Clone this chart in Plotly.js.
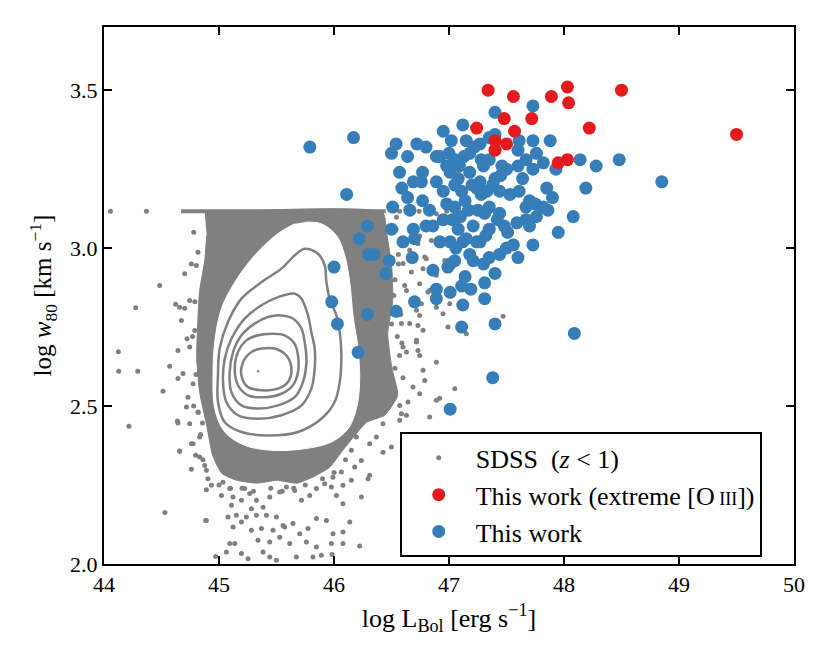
<!DOCTYPE html>
<html>
<head>
<meta charset="utf-8">
<script src="https://cdn.plot.ly/plotly-3.0.1.min.js"></script>
<style>html,body{margin:0;padding:0;background:#fff;}#chart{width:830px;height:664px;}</style>
</head>
<body>
<div id="chart"></div>
<script>
// ---------------- data ----------------
const xTickVals = [44, 45, 46, 47, 48, 49, 50];
const xTickText = ["44", "45", "46", "47", "48", "49", "50"];
const yTickVals = [2.0, 2.5, 3.0, 3.5];
const yTickText = ["2.0", "2.5", "3.0", "3.5"];

// "This work" sample
const blueX = [45.79,46.17,46.11,46.29,46.22,46.30,46.35,46.48,46.00,46.45,45.98,46.29,46.03,46.21,46.54,46.70,
  46.54,46.50,46.95,46.64,46.72,46.80,46.89,46.57,46.59,46.69,46.77,46.89,46.64,46.77,46.51,46.66,46.98,46.50,46.69,46.80,46.60,46.70,46.68,46.86,46.99,46.89,46.89,
  47.73,47.40,47.12,46.92,47.02,47.15,47.27,47.05,47.18,47.35,47.61,47.73,47.88,47.76,47.67,47.82,48.14,47.46,47.50,
  47.01,47.09,47.18,47.27,47.40,47.64,47.73,47.85,47.11,47.24,47.33,47.53,47.61,47.70,47.90,47.17,47.31,47.44,47.67,47.86,48.08,
  46.95,47.08,47.21,47.35,47.59,47.67,47.76,47.95,47.01,47.12,47.27,47.51,47.56,47.73,
  47.40,48.48,48.28,48.85,48.19,47.40,47.31,47.31,47.12,47.11,47.40,48.09,47.38,47.01,47.01,47.19,47.14,47.01,47.05,47.21,47.35,47.44,
  47.75,47.24,47.18,47.30,47.60,47.93,46.76,47.11,47.06,46.86,47.03,
  47.05,47.35,47.44,47.14,46.92,46.83,47.48,47.08,47.30,
  47.00,47.08,47.20,47.28,47.10,47.25,47.15,47.32,47.22,47.05,46.95,47.28,47.38,47.45,47.13,47.35,46.98,47.42,47.60,47.82,47.70,47.50,47.60];
const blueY = [3.32,3.35,3.17,3.07,3.03,2.98,2.98,2.96,2.94,2.92,2.83,2.79,2.76,2.67,2.80,2.83,
  3.33,3.30,3.37,3.29,3.33,3.32,3.29,3.24,3.19,3.21,3.24,3.21,3.16,3.15,3.13,3.12,3.14,3.06,3.06,3.07,3.02,3.03,2.97,2.93,2.94,2.87,2.84,
  3.45,3.43,3.39,3.29,3.34,3.34,3.33,3.28,3.30,3.28,3.34,3.34,3.34,3.30,3.28,3.27,3.28,3.26,3.25,
  3.24,3.26,3.24,3.21,3.22,3.22,3.25,3.19,3.18,3.19,3.18,3.17,3.18,3.15,3.16,3.12,3.11,3.11,3.13,3.12,3.10,
  3.09,3.06,3.07,3.06,3.08,3.09,3.10,3.05,3.02,3.02,3.02,3.05,3.01,3.01,
  3.36,3.28,3.26,3.21,3.19,2.92,2.89,2.84,2.82,2.75,2.76,2.73,2.59,2.49,2.86,2.87,2.91,2.95,2.96,2.96,2.97,2.98,
  3.14,3.02,2.98,3.26,3.31,3.25,3.21,2.88,3.00,3.07,3.09,
  3.20,3.13,3.18,3.15,3.02,3.12,3.07,3.10,2.95,
  3.30,3.22,3.20,3.28,3.10,3.12,3.03,3.04,3.32,3.13,3.18,3.17,3.20,3.23,3.29,3.35,3.26,3.09,3.26,3.13,3.07,3.00,2.97];

// "This work (extreme [O III])" sample
const redX = [47.34,47.56,47.89,48.03,48.04,48.50,47.48,47.72,47.24,47.57,48.22,49.50,47.40,47.50,47.40,47.95,48.03];
const redY = [3.50,3.48,3.48,3.51,3.46,3.50,3.41,3.41,3.38,3.37,3.38,3.36,3.34,3.33,3.31,3.27,3.28];

// SDSS: dense core outline (region filled solid by points)
const denseX = [44.876,46.423,46.458,46.502,46.511,46.467,46.502,46.554,46.441,46.284,46.197,46.076,45.963,45.815,45.676,45.502,45.328,45.154,45.024,44.945,44.893,44.832,44.806,44.815,44.832,44.876,44.893];
const denseY = [3.113,3.113,3.047,2.939,2.835,2.730,2.623,2.534,2.471,2.449,2.414,2.360,2.306,2.275,2.256,2.265,2.256,2.265,2.287,2.344,2.439,2.543,2.654,2.762,2.866,2.961,3.040];

// SDSS: pile-up of points at the w80 ceiling
const capX = [44.67, 46.45];
const capY = [3.117, 3.117];

// SDSS: individual sparse points
const sdssX = [44.056,44.369,44.484,44.276,44.623,44.125,44.128,44.293,44.513,44.217,44.638,44.658,44.530,44.884,44.702,44.673,44.722,44.643,44.571,44.643,44.730,44.817,44.745,44.774,44.832,44.890,44.658,44.745,44.702,44.803,44.817,44.789,44.745,44.687,44.774,44.717,44.832,
  44.643,44.856,44.760,44.658,44.797,44.760,44.876,44.904,44.934,44.890,45.035,45.093,45.021,45.122,45.223,45.267,45.325,45.195,45.108,45.282,45.383,45.441,45.528,45.586,45.658,45.717,45.789,45.847,45.919,45.977,46.021,46.078,46.238,
  46.137,46.078,45.991,45.934,45.847,45.774,45.702,45.643,45.571,45.499,45.412,45.325,45.238,45.151,45.078,44.890,45.122,45.195,45.282,45.369,45.470,45.557,45.339,45.441,45.528,45.615,45.760,45.847,45.977,46.078,46.223,45.093,45.137,45.064,45.195,45.252,45.383,45.441,45.499,45.673,45.817,45.890,45.983,44.971,
  46.310,46.426,46.499,46.310,46.296,46.238,46.151,46.195,46.369,46.571,46.630,46.470,46.571,46.426,46.180,46.151,46.064,45.991,46.078,
  46.586,46.658,46.730,46.803,46.600,46.673,46.745,46.832,46.890,46.630,46.717,46.586,46.658,46.730,46.774,46.717,46.730,46.745,46.630,46.774,46.890,46.789,46.687,47.050,46.991,47.151,46.643,46.586,46.832,46.890,46.543,46.658,46.890,46.963,46.774,46.890,47.006,46.948,46.847,46.789,46.615,46.817,46.760,47.470,46.745,46.717,46.600,46.919,46.745,46.745,47.267,
  46.57,46.66,46.74,46.98,47.18,
  46.54,46.56,46.53,46.58,46.55,46.57,46.60,46.52,46.56,46.59,46.50,46.53,
  44.78,44.76,44.79,44.77,44.80,44.78,44.84,44.86,44.82,
  45.00,45.10,45.20,45.30,45.45,45.55,45.65,45.75,45.90,46.00,46.10];
const sdssY = [3.117,3.117,2.882,2.811,2.822,2.672,2.610,2.610,2.547,2.436,2.453,2.358,2.163,2.138,2.810,2.771,2.713,2.676,2.626,2.587,2.528,2.481,2.444,2.381,2.339,2.297,2.813,2.834,2.919,2.945,2.987,2.739,2.687,2.603,2.571,2.497,2.402,
  2.446,2.446,2.381,2.357,2.344,2.300,2.312,2.270,2.249,2.235,2.259,2.239,2.217,2.212,2.239,2.223,2.202,2.202,2.186,2.175,2.180,2.212,2.228,2.244,2.233,2.202,2.217,2.239,2.254,2.244,2.217,2.191,2.212,
  2.133,2.101,2.096,2.138,2.144,2.112,2.096,2.128,2.117,2.149,2.154,2.154,2.149,2.154,2.149,2.138,2.117,2.133,2.107,2.112,2.107,2.122,2.075,2.070,2.085,2.065,2.070,2.054,2.065,2.065,2.057,2.065,2.065,2.038,2.033,2.017,2.038,2.022,2.012,2.022,2.022,2.028,2.030,2.024,
  2.381,2.354,2.370,2.281,2.270,2.328,2.360,2.402,2.402,2.455,2.471,2.497,2.502,2.444,2.307,2.265,2.291,2.275,2.249,
  3.030,2.993,3.014,2.966,2.951,2.924,2.887,2.866,2.813,2.866,2.803,2.761,2.761,2.755,2.740,2.708,2.676,2.660,2.671,2.613,2.639,2.581,2.560,2.555,2.750,2.729,2.513,2.476,2.465,2.518,3.098,3.109,3.109,2.961,2.935,2.914,2.824,2.792,3.024,2.972,2.882,2.861,2.824,2.784,2.787,2.703,2.687,2.525,2.539,3.038,3.119,
  3.117,3.117,3.117,3.117,3.117,
  3.06,2.98,2.90,2.79,2.72,2.66,2.59,2.85,2.95,2.70,2.76,2.62,
  3.05,2.95,2.83,2.72,2.60,2.50,2.41,2.33,2.48,
  2.25,2.24,2.24,2.23,2.24,2.23,2.24,2.25,2.27,2.29,2.33];

// SDSS density contours: outermost level (filled white) and inner levels
const whiteX = [45.745,45.890,46.021,46.093,46.137,46.165,46.209,46.223,46.195,46.122,45.977,45.745,45.456,45.223,45.050,44.963,44.948,44.963,45.021,45.137,45.310,45.513,45.658];
const whiteY = [3.082,3.077,3.040,2.977,2.892,2.787,2.682,2.576,2.492,2.428,2.386,2.365,2.360,2.376,2.418,2.492,2.597,2.703,2.808,2.892,2.977,3.046,3.077];
const c1X = [45.745,45.861,45.919,45.934,45.963,46.021,46.050,46.064,46.050,46.006,45.890,45.687,45.426,45.195,45.050,44.991,44.991,45.006,45.078,45.195,45.369,45.543,45.658,45.745];
const c1Y = [2.998,2.982,2.945,2.892,2.840,2.787,2.734,2.660,2.576,2.513,2.460,2.418,2.407,2.418,2.449,2.513,2.597,2.682,2.766,2.840,2.892,2.935,2.977,2.998];
const c2X = [45.658,45.717,45.774,45.803,45.832,45.832,45.803,45.717,45.543,45.339,45.165,45.064,45.035,45.050,45.108,45.223,45.369,45.513,45.658];
const c2Y = [2.856,2.840,2.787,2.734,2.682,2.618,2.555,2.502,2.471,2.460,2.471,2.513,2.576,2.650,2.713,2.777,2.819,2.845,2.856];
const c3X = [45.543,45.643,45.717,45.745,45.760,45.730,45.658,45.513,45.339,45.195,45.108,45.093,45.122,45.195,45.310,45.426,45.543];
const c3Y = [2.787,2.777,2.745,2.703,2.639,2.576,2.528,2.502,2.492,2.502,2.544,2.608,2.671,2.724,2.761,2.782,2.787];
const c4X = [45.456,45.571,45.658,45.687,45.687,45.643,45.543,45.397,45.252,45.165,45.137,45.165,45.238,45.339,45.456];
const c4Y = [2.729,2.724,2.697,2.660,2.608,2.566,2.539,2.528,2.534,2.566,2.618,2.671,2.708,2.724,2.729];
const c5X = [45.369,45.484,45.586,45.630,45.600,45.513,45.369,45.252,45.195,45.209,45.282,45.369];
const c5Y = [2.682,2.682,2.660,2.618,2.576,2.555,2.550,2.560,2.597,2.639,2.671,2.682];
const peakX = [45.34];
const peakY = [2.61];

// ---------------- styles ----------------
const GRAY = '#808080';
const BLUE = '#377eb8';
const RED = '#e41a1c';
const FONT = 'Liberation Serif, Times New Roman, serif';

function contour(x, y) {
  return {x: x, y: y, type: 'scatter', mode: 'lines', showlegend: false, hoverinfo: 'skip',
    line: {color: GRAY, width: 2.5, shape: 'spline', smoothing: 1}};
}

const traces = [
  {x: denseX, y: denseY, type: 'scatter', mode: 'lines', fill: 'toself', fillcolor: GRAY,
   line: {color: GRAY, width: 1, shape: 'spline', smoothing: 0.5}, showlegend: false, hoverinfo: 'skip'},
  {x: capX, y: capY, type: 'scatter', mode: 'lines', line: {color: GRAY, width: 4},
   showlegend: false, hoverinfo: 'skip'},
  {x: sdssX, y: sdssY, type: 'scatter', mode: 'markers', name: 'SDSS  (<i>z</i> &lt; 1)',
   marker: {color: GRAY, size: 5}, legendrank: 1},
  {x: whiteX, y: whiteY, type: 'scatter', mode: 'lines', fill: 'toself', fillcolor: '#ffffff',
   line: {color: '#ffffff', width: 1, shape: 'spline', smoothing: 1}, showlegend: false, hoverinfo: 'skip'},
  contour(c1X, c1Y), contour(c2X, c2Y), contour(c3X, c3Y), contour(c4X, c4Y), contour(c5X, c5Y),
  {x: peakX, y: peakY, type: 'scatter', mode: 'markers', marker: {color: GRAY, size: 2.5},
   showlegend: false, hoverinfo: 'skip'},
  {x: blueX, y: blueY, type: 'scatter', mode: 'markers', name: 'This work',
   marker: {color: BLUE, size: 13, line: {width: 0}}, legendrank: 3},
  {x: redX, y: redY, type: 'scatter', mode: 'markers',
   name: 'This work (extreme [O<span style="font-size:18px"> III</span>])',
   marker: {color: RED, size: 13, line: {width: 0}}, legendrank: 2}
];

const axisCommon = {
  ticks: 'inside', ticklen: 8, tickwidth: 1.5, tickcolor: '#000',
  showline: true, linecolor: '#000', linewidth: 2, mirror: 'ticks',
  showgrid: false, zeroline: false,
  tickfont: {family: FONT, size: 22, color: '#000'}
};

const layout = {
  width: 830, height: 664,
  margin: {l: 104, r: 36, t: 27, b: 100},
  paper_bgcolor: '#fff', plot_bgcolor: '#fff',
  font: {family: FONT, color: '#000'},
  xaxis: Object.assign({}, axisCommon, {
    range: [44, 50], tickmode: 'array', tickvals: xTickVals, ticktext: xTickText,
    title: {text: 'log L<sub>Bol</sub> [erg s<sup>\u22121</sup>]', font: {family: FONT, size: 26, color: '#000'}, standoff: 12}
  }),
  yaxis: Object.assign({}, axisCommon, {
    range: [2.0, 3.7], tickmode: 'array', tickvals: yTickVals, ticktext: yTickText,
    title: {text: 'log <i>w</i><sub>80</sub> [km s<sup>\u22121</sup>]', font: {family: FONT, size: 25, color: '#000'}, standoff: 11}
  }),
  legend: {
    x: 0.4286, y: 0.245, xanchor: 'left', yanchor: 'top',
    bgcolor: '#fff', bordercolor: '#000', borderwidth: 2,
    font: {family: FONT, size: 26, color: '#000'},
    itemwidth: 64, traceorder: 'normal'
  },
  showlegend: true
};

Plotly.newPlot('chart', traces, layout, {displayModeBar: false, staticPlot: true});
</script>
</body>
</html>
